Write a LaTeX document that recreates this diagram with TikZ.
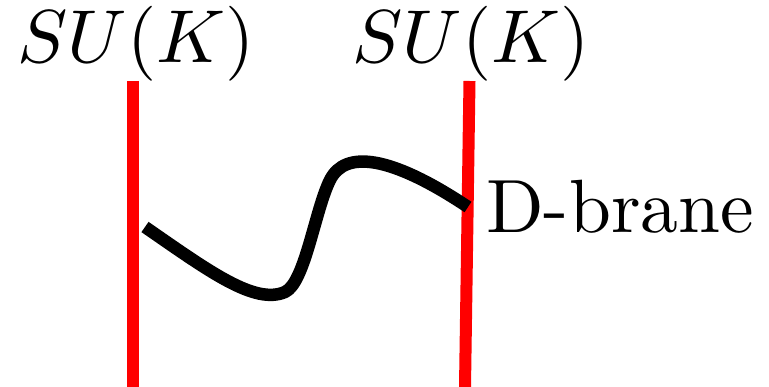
\documentclass[tikz,border=0pt]{standalone}
\begin{document}
\begin{tikzpicture}[x=1pt,y=-1pt,
  brane/.style={draw=red,line width=12pt,line cap=butt},
  string/.style={draw=black,line width=12.5pt,line cap=butt,line join=round},
  big/.style={inner sep=0pt,anchor=base}]
\useasboundingbox (0,0) rectangle (769,387);
\coordinate (l1) at (133,81);
\coordinate (l2) at (133,387);
\coordinate (r1) at (469.5,81);
\coordinate (r2) at (465,387);
\coordinate (s0) at (145,227);
\coordinate (s1) at (285,292);
\coordinate (s2) at (330,180);
\coordinate (s3) at (468,207);
\draw[brane] (l1) -- (l2);
\draw[brane] (r1) -- (r2);
\draw[string] (s0) .. controls (210,272) and (255,305) .. (s1)
  .. controls (305,283) and (315,210) .. (s2)
  .. controls (345,150) and (390,155) .. (s3);
\node[big] (sul) at (136,63) {\scalebox{7.5}{$SU(K)$}};
\node[big] (sur) at (471,63) {\scalebox{7.5}{$SU(K)$}};
\node[big,anchor=base west] (db) at (486,233) {\scalebox{7.55}{D-brane}};
\end{tikzpicture}
\end{document}
